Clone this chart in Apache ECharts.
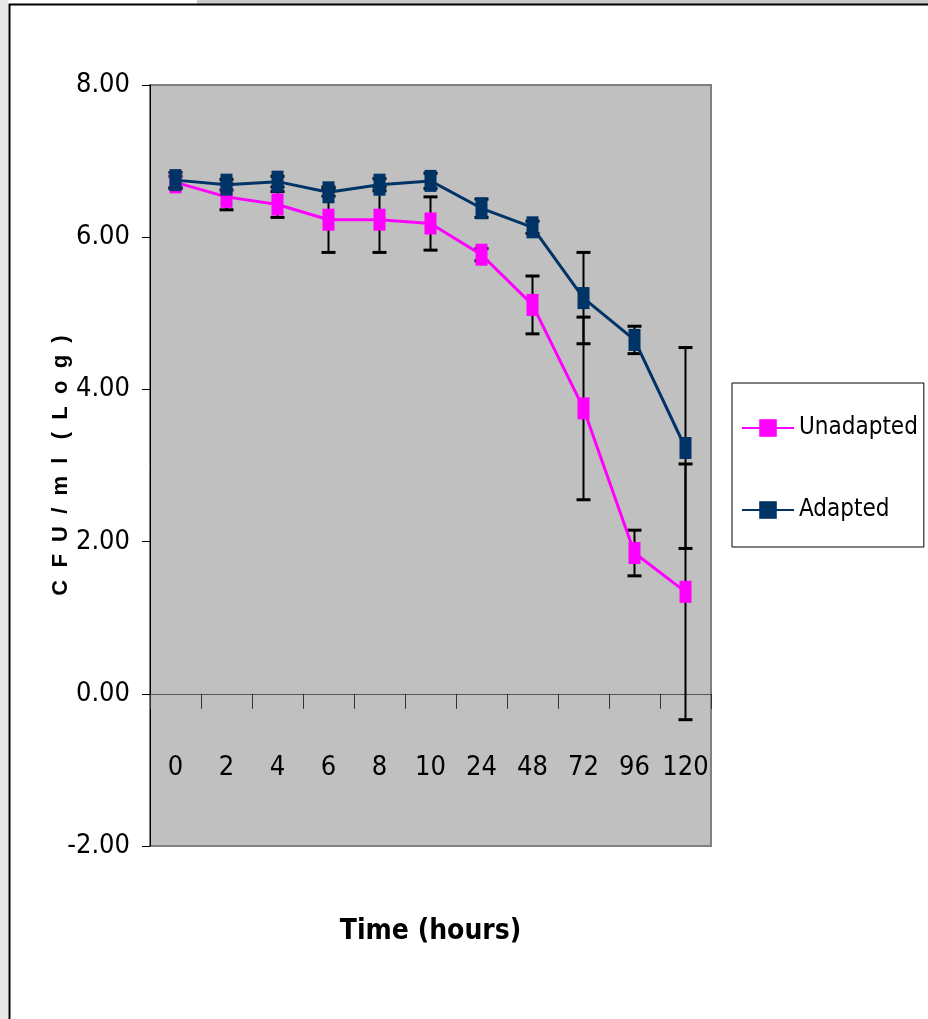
<!DOCTYPE html>
<html>
<head>
<meta charset="utf-8">
<script src="https://cdn.jsdelivr.net/npm/echarts@6/dist/echarts.min.js"></script>
<style>
  html, body { margin: 0; padding: 0; background: #fff; }
  #chart { width: 928px; height: 1019px; }
</style>
</head>
<body>
<div id="chart"></div>
<script>
// ---- data ----
const categories = ['0', '2', '4', '6', '8', '10', '24', '48', '72', '96', '120'];
const unadapted    = [6.72, 6.53, 6.43, 6.23, 6.23, 6.18, 5.77, 5.11, 3.75, 1.85, 1.34];
const unadaptedErr = [0.08, 0.17, 0.17, 0.43, 0.43, 0.35, 0.08, 0.38, 1.20, 0.30, 1.68];
const adapted      = [6.75, 6.69, 6.73, 6.59, 6.69, 6.74, 6.38, 6.13, 5.20, 4.65, 3.23];
const adaptedErr   = [0.10, 0.07, 0.07, 0.05, 0.08, 0.10, 0.12, 0.08, 0.60, 0.18, 1.32];
const yTicks = { min: -2, max: 8, interval: 2 };
const seriesNames = ['Unadapted', 'Adapted'];
const xTitle = 'Time (hours)';
const yTitle = 'C  F  U  /  m  l   (  L  o  g  )';

const NARROW = "'Liberation Sans Narrow', 'Arial Narrow', 'DejaVu Sans Condensed', sans-serif";
const PINK = '#FF00FF';
const NAVY = '#003366';

function errData(vals, errs) {
  return vals.map((v, i) => [i, v - errs[i], v + errs[i]]);
}

function renderErr(params, api) {
  const x = api.value(0);
  const lo = api.coord([x, api.value(1)]);
  const hi = api.coord([x, api.value(2)]);
  const cap = 7;
  const style = { stroke: '#000', lineWidth: 2 };
  const capStyle = { stroke: '#000', lineWidth: 3 };
  return {
    type: 'group',
    children: [
      { type: 'line', shape: { x1: hi[0], y1: hi[1], x2: lo[0], y2: lo[1] }, style: style },
      { type: 'line', shape: { x1: hi[0] - cap, y1: hi[1], x2: hi[0] + cap, y2: hi[1] }, style: capStyle },
      { type: 'line', shape: { x1: lo[0] - cap, y1: lo[1], x2: lo[0] + cap, y2: lo[1] }, style: capStyle }
    ]
  };
}

const chart = echarts.init(document.getElementById('chart'), null, { renderer: 'canvas' });
chart.setOption({
  animation: false,
  backgroundColor: '#fff',
  graphic: [
    { type: 'rect', shape: { x: 0, y: 0, width: 8, height: 1019 }, style: { fill: '#E8E8E8' }, z: -10 },
    { type: 'rect', shape: { x: 197, y: 0, width: 731, height: 4 }, style: { fill: '#C8C8C8' }, z: -10 },
    { type: 'rect', shape: { x: 9.5, y: 4.5, width: 930, height: 1030 }, style: { fill: 'none', stroke: '#000', lineWidth: 2 }, z: -5 }
  ],
  grid: {
    left: 150, right: 217, top: 85, bottom: 173,
    containLabel: false,
    outerBoundsMode: 'none',
    show: true, backgroundColor: '#C0C0C0', borderColor: '#808080', borderWidth: 2
  },
  legend: {
    data: seriesNames,
    orient: 'vertical',
    left: 732, top: 383,
    itemWidth: 52, itemHeight: 22, itemGap: 58,
    padding: [33, 6, 25, 9],
    backgroundColor: '#fff', borderColor: '#000', borderWidth: 1,
    textStyle: { fontFamily: NARROW, fontSize: 24, color: '#000' }
  },
  xAxis: {
    type: 'category',
    data: categories,
    boundaryGap: true,
    name: xTitle,
    nameLocation: 'middle',
    nameGap: 72,
    nameMoveOverlap: false,
    nameTextStyle: { fontFamily: NARROW, fontWeight: 'bold', fontSize: 28, color: '#000', verticalAlign: 'top' },
    axisLine: { onZero: true, lineStyle: { color: '#555', width: 1 } },
    axisTick: { show: true, length: 15, alignWithLabel: false, lineStyle: { color: '#333' } },
    axisLabel: { interval: 0, margin: -92, fontFamily: NARROW, fontSize: 27, color: '#000' },
    splitLine: { show: false }
  },
  yAxis: {
    type: 'value',
    min: yTicks.min, max: yTicks.max, interval: yTicks.interval,
    name: yTitle,
    nameLocation: 'middle',
    nameRotate: 90,
    nameGap: 78,
    nameMoveOverlap: false,
    nameTextStyle: { fontFamily: "'Liberation Sans', Arial, sans-serif", fontWeight: 'bold', fontSize: 22, color: '#000' },
    axisLine: { show: true, lineStyle: { color: '#000', width: 1 } },
    axisTick: { show: true, length: 8, lineStyle: { color: '#000' } },
    axisLabel: { margin: 20, fontFamily: NARROW, fontSize: 27, color: '#000', formatter: v => v.toFixed(2) },
    splitLine: { show: false }
  },
  series: [
    {
      type: 'custom', name: 'Unadapted error', renderItem: renderErr,
      data: errData(unadapted, unadaptedErr), z: 1, silent: true
    },
    {
      type: 'custom', name: 'Adapted error', renderItem: renderErr,
      data: errData(adapted, adaptedErr), z: 1, silent: true
    },
    {
      name: seriesNames[0], type: 'line', data: unadapted, z: 3,
      symbol: 'rect', symbolSize: [12, 22],
      lineStyle: { color: PINK, width: 3 },
      itemStyle: { color: PINK }
    },
    {
      name: seriesNames[1], type: 'line', data: adapted, z: 4,
      symbol: 'rect', symbolSize: [12, 22],
      lineStyle: { color: NAVY, width: 3 },
      itemStyle: { color: NAVY }
    }
  ]
});
</script>
</body>
</html>
